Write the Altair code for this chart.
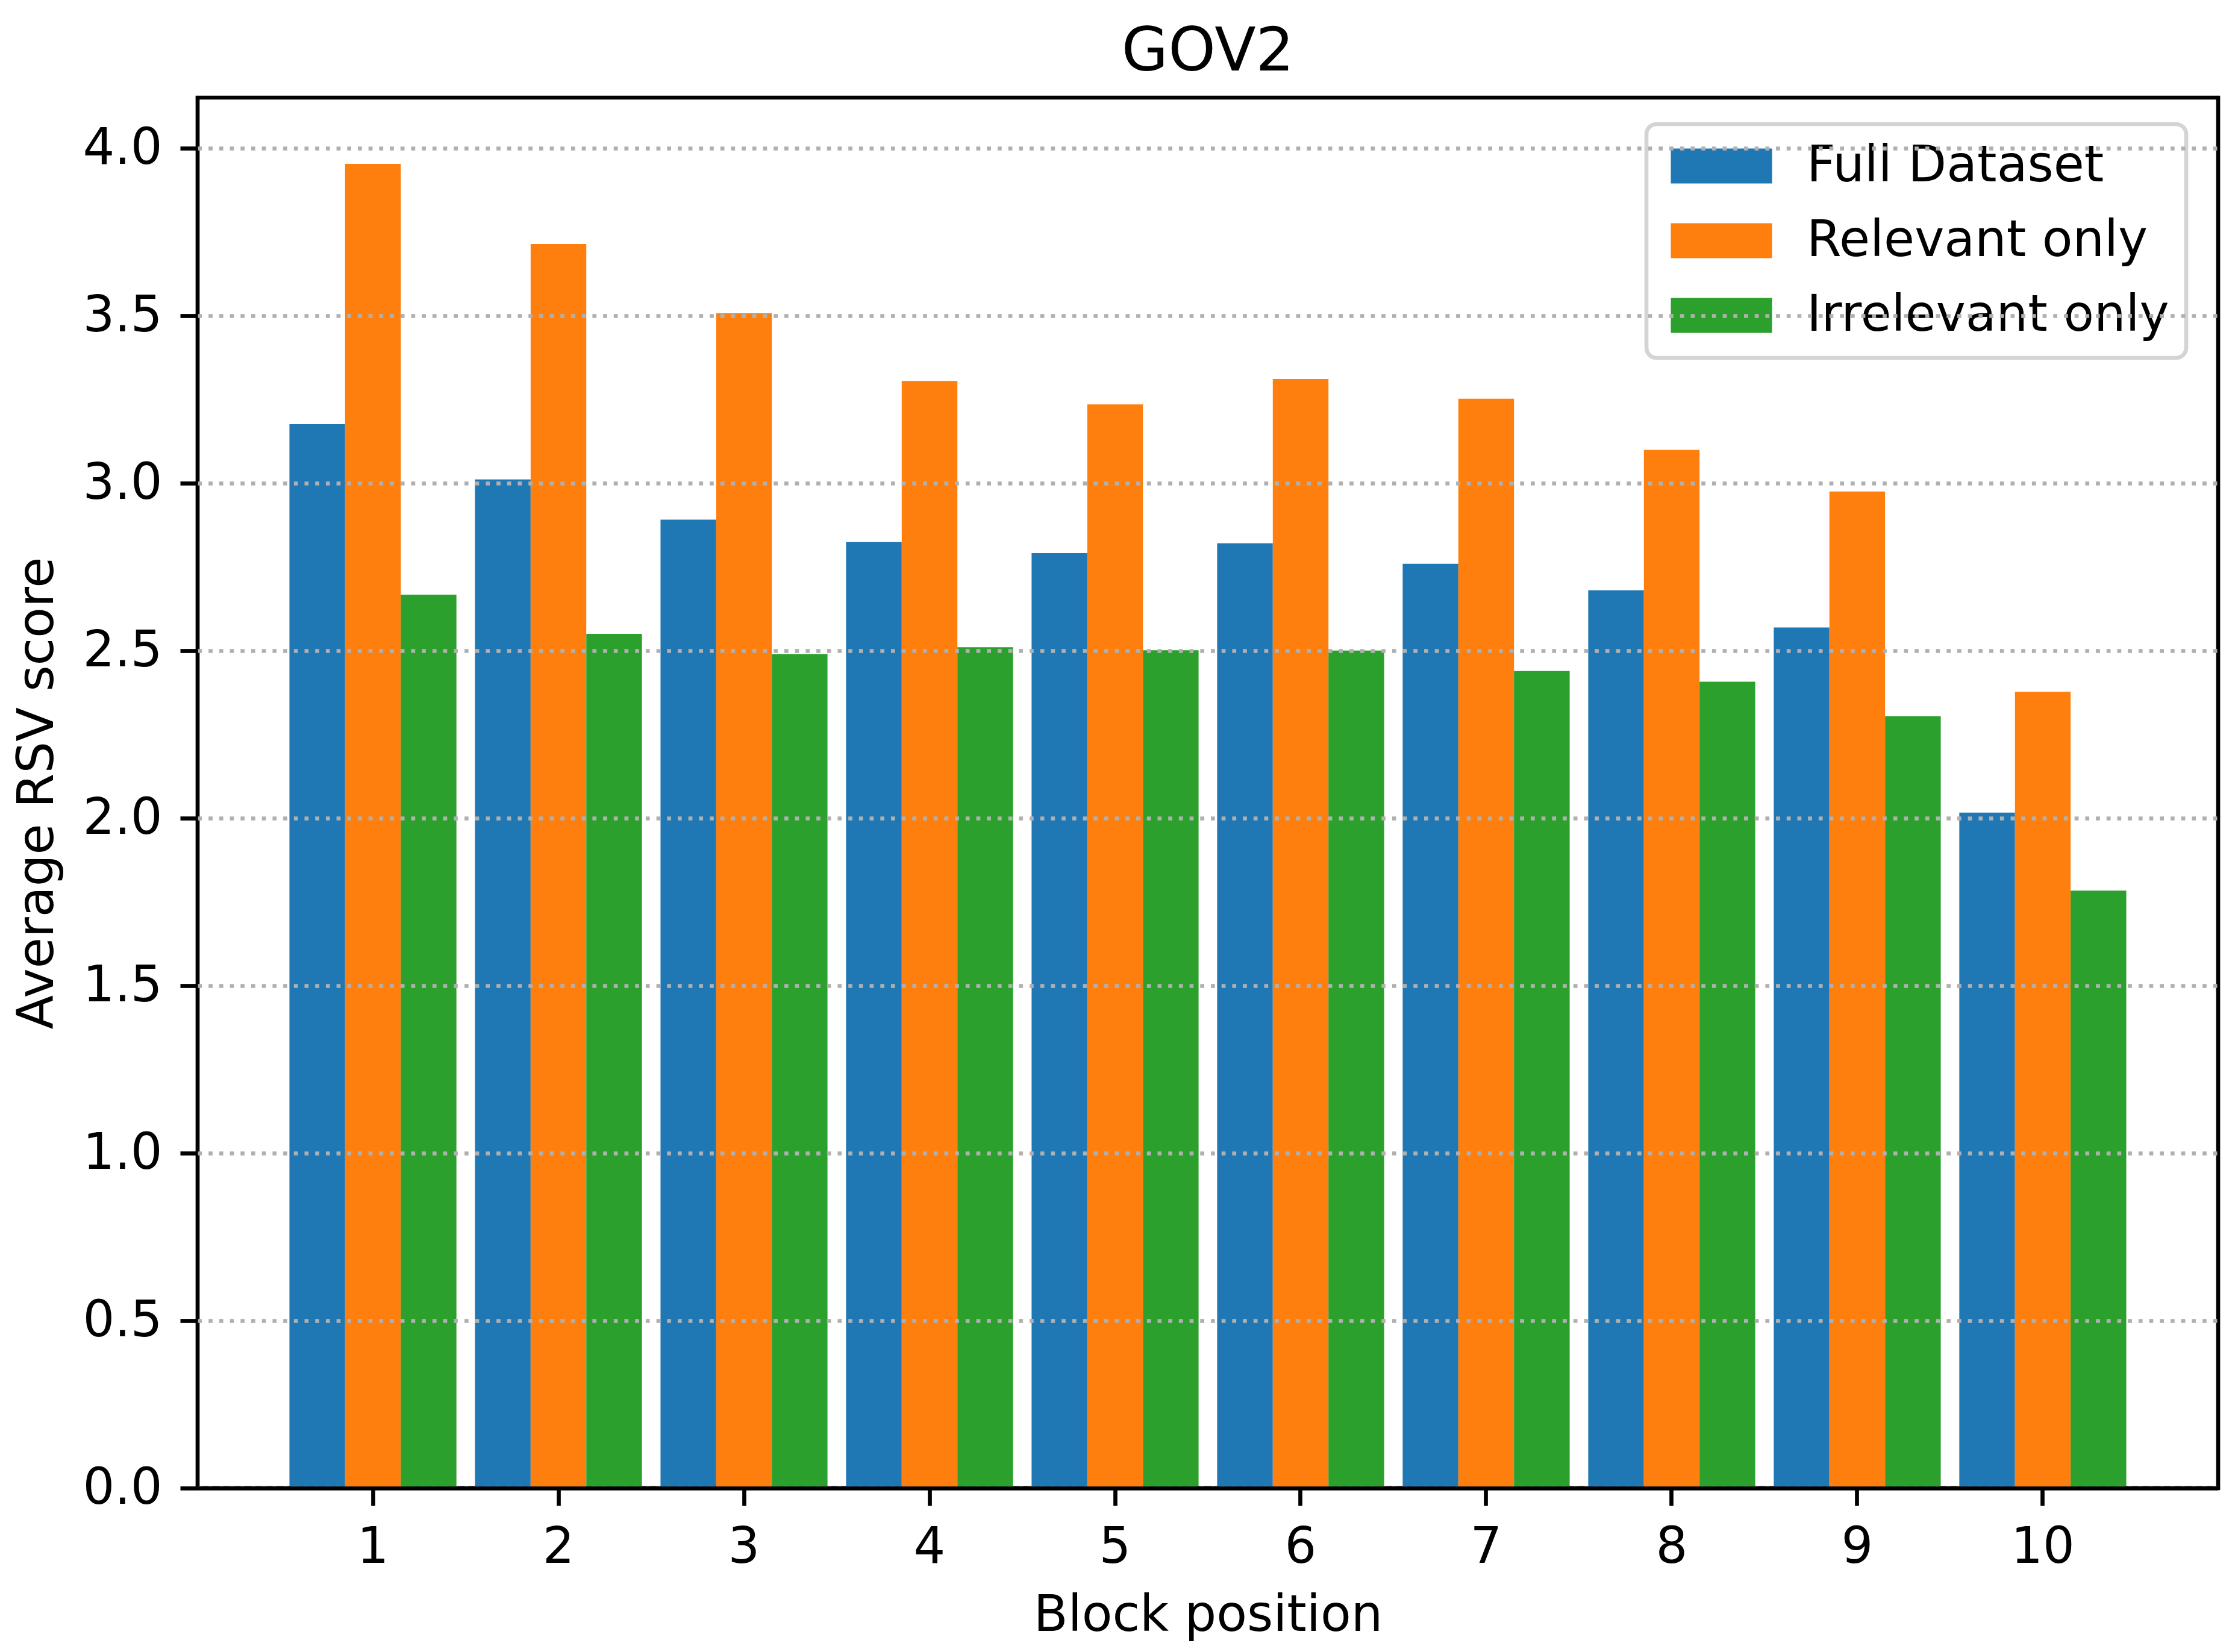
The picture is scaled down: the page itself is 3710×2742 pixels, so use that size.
import altair as alt
import pandas as pd

blocks = [1, 2, 3, 4, 5, 6, 7, 8, 9, 10]
series_names = ["Full Dataset", "Relevant only", "Irrelevant only"]
series_colors = ["#1f77b4", "#ff7f0e", "#2ca02c"]
full_dataset = [3.177, 3.012, 2.892, 2.825, 2.792, 2.821, 2.760, 2.681, 2.570, 2.017]
relevant_only = [3.954, 3.715, 3.508, 3.306, 3.236, 3.312, 3.253, 3.100, 2.976, 2.378]
irrelevant_only = [2.668, 2.551, 2.490, 2.511, 2.502, 2.501, 2.440, 2.408, 2.305, 1.784]
y_ticks = [0.0, 0.5, 1.0, 1.5, 2.0, 2.5, 3.0, 3.5, 4.0]

rows = []
for name, vals in zip(series_names, [full_dataset, relevant_only, irrelevant_only]):
    for b, v in zip(blocks, vals):
        rows.append({"block": b, "series": name, "score": v})
df = pd.DataFrame(rows)

FONT = "DejaVu Sans"
LW = 6.7

chart = alt.Chart(df).mark_bar().encode(
    x=alt.X("block:O", title="Block position",
            scale=alt.Scale(paddingInner=0.1, paddingOuter=0.495),
            axis=alt.Axis(labelAngle=0, grid=False, domain=True,
                          domainColor="black", domainWidth=LW,
                          tickSize=29, tickWidth=LW, tickColor="black",
                          labelPadding=28, titlePadding=30, zindex=2)),
    xOffset=alt.XOffset("series:N", sort=series_names,
                        scale=alt.Scale(paddingInner=0, paddingOuter=0)),
    y=alt.Y("score:Q", title="Average RSV score",
            scale=alt.Scale(domain=[0, 4.152], nice=False, zero=True),
            axis=alt.Axis(values=y_ticks, format=".1f", grid=True,
                          gridColor="#b0b0b0", gridWidth=LW, gridDash=[6.7, 11],
                          domain=False, tickSize=29, tickWidth=LW, tickColor="black",
                          labelPadding=30, titlePadding=33, zindex=1)),
    color=alt.Color("series:N", sort=series_names,
                    scale=alt.Scale(domain=series_names, range=series_colors),
                    legend=alt.Legend(
                        title=None, orient="none", legendX=2405, legendY=44,
                        symbolType="M-1,-1H4.793V1H-1Z", symbolSize=3364,
                        symbolStrokeWidth=0, labelOffset=155, labelLimit=2000,
                        labelFontSize=83, labelFont=FONT, labelColor="black",
                        rowPadding=40, padding=28,
                        fillColor="rgba(255,255,255,0.8)", strokeColor="#d4d4d4",
                        cornerRadius=17)),
).properties(
    width=3354, height=2308,
    title=alt.TitleParams("GOV2", fontSize=100, font=FONT, fontWeight="normal",
                          color="black", anchor="middle", frame="group",
                          baseline="alphabetic", offset=44, dy=99),
    autosize=alt.AutoSizeParams(type="none"),
    padding={"left": 320, "top": 154, "right": 20, "bottom": 264},
).configure_view(
    stroke="black", strokeWidth=LW
).configure_axis(
    labelFont=FONT, titleFont=FONT, labelFontSize=83, titleFontSize=83,
    titleFontWeight="normal", labelColor="black", titleColor="black"
).configure_legend(
    strokeWidth=LW
)

chart.save("out.html", embed_options={"renderer": "svg", "actions": False})
